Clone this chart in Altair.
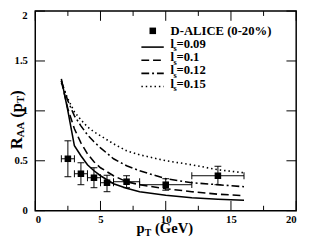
import altair as alt
import pandas as pd

# ---------------- data ----------------
pt_curve = [2, 2.5, 3, 3.5, 4, 4.5, 5, 6, 7, 8, 10, 12, 14, 16]
raa_009 = [1.32, 1.00, 0.65, 0.55, 0.46, 0.40, 0.35, 0.27, 0.225, 0.19, 0.155, 0.13, 0.115, 0.105]
raa_010 = [1.30, 1.02, 0.82, 0.68, 0.57, 0.49, 0.43, 0.35, 0.29, 0.26, 0.22, 0.19, 0.165, 0.15]
raa_012 = [1.30, 1.10, 0.95, 0.85, 0.76, 0.69, 0.63, 0.52, 0.45, 0.40, 0.32, 0.28, 0.26, 0.24]
raa_015 = [1.28, 1.12, 0.99, 0.91, 0.84, 0.79, 0.75, 0.67, 0.60, 0.56, 0.50, 0.46, 0.41, 0.38]

alice_pt = [2.5, 3.5, 4.5, 5.5, 7, 10, 14]
alice_raa = [0.52, 0.37, 0.33, 0.28, 0.29, 0.26, 0.35]
alice_lo = [0.34, 0.26, 0.23, 0.19, 0.23, 0.205, 0.26]
alice_hi = [0.70, 0.48, 0.43, 0.355, 0.35, 0.32, 0.445]
alice_ptlo = [2, 3, 4, 5, 6, 8, 12]
alice_pthi = [3, 4, 5, 6, 8, 12, 16]

x_major = [0, 5, 10, 15, 20]
x_minor = [2.5, 7.5, 12.5, 17.5]
y_major = [0, 0.5, 1, 1.5, 2]
y_labelled = [0, 0.5, 1, 1.5]
y_top_label = "2"

series_labels = ["0.09", "0.1", "0.12", "0.15"]
series_values = [raa_009, raa_010, raa_012, raa_015]
series_dash = [None, [8, 4], [8, 3, 2, 3], [1.5, 3]]

# ---------------- chart ----------------
W, H = 268, 205
FONT = "Liberation Serif"

xs = alt.Scale(domain=[0, 20], nice=False, zero=False)
ys = alt.Scale(domain=[0, 2], nice=False, zero=False)
xaxis = alt.Axis(values=x_major, format="~g", ticks=False, domain=False, grid=False,
                 labelFont=FONT, labelFontWeight="bold", labelFontSize=11,
                 labelPadding=3, labelColor="black", title=None)
yaxis = alt.Axis(values=y_labelled, format="~g", ticks=False, domain=False, grid=False,
                 labelFont=FONT, labelFontWeight="bold", labelFontSize=11,
                 labelPadding=8, labelColor="black", title=None)

one = pd.DataFrame({"a": [0]})


def txt(s, x, y, size, angle=0, align="left"):
    mk = dict(text=s, font=FONT, fontWeight="bold", fontSize=size, align=align,
              baseline="alphabetic", color="black")
    if angle:
        mk["angle"] = angle
    return alt.Chart(one).mark_text(**mk).encode(x=alt.value(x), y=alt.value(y))


layers = []

pts = pd.DataFrame({"pt": alice_pt, "r": alice_raa, "lo": alice_lo, "hi": alice_hi,
                    "xlo": alice_ptlo, "xhi": alice_pthi})
base = alt.Chart(pts)
layers.append(base.mark_rule(color="black", strokeWidth=1).encode(
    x=alt.X("pt:Q", scale=xs, axis=xaxis), y=alt.Y("lo:Q", scale=ys, axis=yaxis), y2="hi:Q"))
layers.append(base.mark_rule(color="black", strokeWidth=1).encode(
    x=alt.X("xlo:Q", scale=xs, axis=xaxis), x2="xhi:Q", y=alt.Y("r:Q", scale=ys, axis=yaxis)))
for f in ["lo", "hi"]:
    layers.append(base.mark_tick(orient="horizontal", size=7, thickness=1, color="black", opacity=1).encode(
        x=alt.X("pt:Q", scale=xs, axis=xaxis), y=alt.Y(f + ":Q", scale=ys, axis=yaxis)))
for f in ["xlo", "xhi"]:
    layers.append(base.mark_tick(orient="vertical", size=7, thickness=1, color="black", opacity=1).encode(
        x=alt.X(f + ":Q", scale=xs, axis=xaxis), y=alt.Y("r:Q", scale=ys, axis=yaxis)))
layers.append(base.mark_square(size=45, filled=True, color="black", opacity=1).encode(
    x=alt.X("pt:Q", scale=xs, axis=xaxis), y=alt.Y("r:Q", scale=ys, axis=yaxis)))

for vals, dash in zip(series_values, series_dash):
    df = pd.DataFrame({"pt": pt_curve, "r": vals})
    mk = dict(color="black", strokeWidth=1.6)
    if dash:
        mk["strokeDash"] = dash
    layers.append(alt.Chart(df).mark_line(**mk).encode(
        x=alt.X("pt:Q", scale=xs, axis=xaxis), y=alt.Y("r:Q", scale=ys, axis=yaxis)))

# inward ticks
for vals, ln in [(x_major, 10), (x_minor, 5)]:
    tdf = pd.DataFrame({"t": vals})
    layers.append(alt.Chart(tdf).mark_rule(color="black", strokeWidth=1).encode(
        x=alt.X("t:Q", scale=xs, axis=xaxis), y=alt.value(H), y2=alt.value(H - ln)))
    layers.append(alt.Chart(tdf).mark_rule(color="black", strokeWidth=1).encode(
        x=alt.X("t:Q", scale=xs, axis=xaxis), y=alt.value(0), y2=alt.value(ln)))
ydf = pd.DataFrame({"t": y_major})
layers.append(alt.Chart(ydf).mark_rule(color="black", strokeWidth=1).encode(
    y=alt.Y("t:Q", scale=ys, axis=yaxis), x=alt.value(0), x2=alt.value(10)))
layers.append(alt.Chart(ydf).mark_rule(color="black", strokeWidth=1).encode(
    y=alt.Y("t:Q", scale=ys, axis=yaxis), x=alt.value(W - 10), x2=alt.value(W)))

# top y label (kept inside the page)
layers.append(txt(y_top_label, -8, 8, 11, align="right"))

# legend
layers.append(alt.Chart(one).mark_square(size=45, filled=True, color="black", opacity=1).encode(
    x=alt.value(120.7), y=alt.value(20.3)))
layers.append(txt("D-ALICE (0-20%)", 139, 24.5, 13))
for i, (lab, dash) in enumerate(zip(series_labels, series_dash)):
    yb = 38 + 13.5 * i
    mk = dict(color="black", strokeWidth=1.6)
    if dash:
        mk["strokeDash"] = dash
    layers.append(alt.Chart(one).mark_rule(**mk).encode(
        x=alt.value(109), x2=alt.value(132), y=alt.value(yb - 1)))
    layers.append(txt("l", 139, yb, 13))
    layers.append(txt("s", 142, yb + 3.5, 8.5))
    layers.append(txt("=" + lab, 145, yb, 13))

# axis titles
layers.append(txt("p", 104, 228, 15))
layers.append(txt("T", 112.5, 231, 10))
layers.append(txt("(GeV)", 123, 228, 15))

layers.append(txt("R", -14, 142, 17, 270))
layers.append(txt("AA", -11.5, 129.5, 11, 270))
layers.append(txt("(p", -14, 109.5, 17, 270))
layers.append(txt("T", -11.5, 94.5, 11, 270))
layers.append(txt(")", -14, 87, 17, 270))

chart = alt.layer(*layers).properties(
    width=W, height=H,
    padding={"left": 28, "top": 0, "right": 7, "bottom": 28},
    autosize=alt.AutoSizeParams(type="none"),
).configure_view(stroke="black", strokeWidth=1.5)

chart.save("out.html", embed_options={"renderer": "svg", "actions": False})
